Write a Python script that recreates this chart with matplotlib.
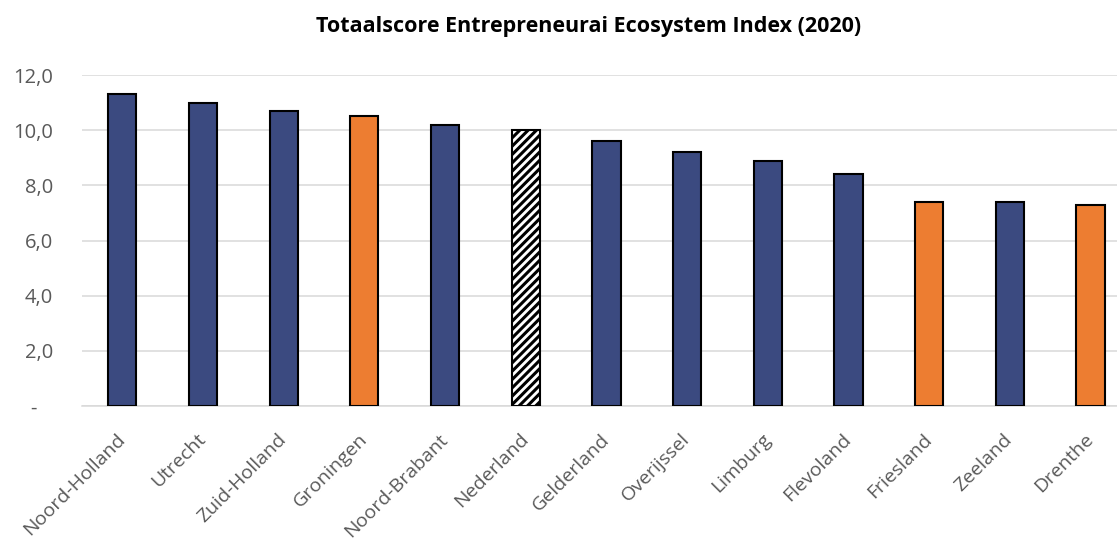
import numpy as np
import matplotlib.pyplot as plt
from matplotlib.ticker import FuncFormatter

provincies = ['Noord-Holland', 'Utrecht', 'Zuid-Holland', 'Groningen', 'Noord-Brabant',
              'Nederland', 'Gelderland', 'Overijssel', 'Limburg', 'Flevoland',
              'Friesland', 'Zeeland', 'Drenthe']
scores = [11.3, 11.0, 10.7, 10.5, 10.2, 10.0, 9.6, 9.2, 8.9, 8.4, 7.4, 7.4, 7.3]
noord = ['Groningen', 'Friesland', 'Drenthe']

blauw = '#3B4A80'
oranje = '#ED7D31'

plt.rcParams['font.family'] = ['Open Sans', 'DejaVu Sans']
plt.rcParams['hatch.linewidth'] = 2.2

fig = plt.figure(figsize=(11.17, 5.4), dpi=100)
# plotgebied loopt iets buiten het plaatje, net als in het origineel
ax = fig.add_axes([0.0734, 0.2481, 0.939, 0.613])

x = np.arange(len(provincies))
for i, (p, s) in enumerate(zip(provincies, scores)):
    if p == 'Nederland':
        ax.bar(i, s, width=0.35, color='white', edgecolor='black', hatch='////',
               linewidth=1.5, zorder=3)
    else:
        kleur = oranje if p in noord else blauw
        ax.bar(i, s, width=0.35, color=kleur, edgecolor='black', linewidth=1.5, zorder=3)

ax.set_ylim(0, 12)
ax.set_xlim(-0.5, len(provincies) - 0.5)
ax.set_yticks(np.arange(0, 12.1, 2))
ax.yaxis.set_major_formatter(FuncFormatter(
    lambda v, pos: '-   ' if v == 0 else f'{v:.1f}'.replace('.', ',')))
ax.yaxis.grid(True, color='#D9D9D9', linewidth=1.1, zorder=0)
ax.set_axisbelow(True)
for kant in ['top', 'right', 'left']:
    ax.spines[kant].set_visible(False)
ax.spines['bottom'].set_color('#D9D9D9')
ax.spines['bottom'].set_linewidth(1.1)
ax.spines['bottom'].set_zorder(1)

ax.set_xticks(x)
ax.set_xticklabels(provincies, rotation=45, ha='right', va='center',
                   rotation_mode='anchor')
ax.tick_params(axis='x', length=0, labelsize=14, colors='#595959', pad=22)
ax.tick_params(axis='y', length=0, labelsize=14.5, colors='#595959', pad=21)

fig.text(0.527, 1 - 32 / 540, 'Totaalscore Entrepreneurai Ecosystem Index (2020)',
         ha='center', va='baseline', fontsize=15.5, fontweight='bold')

fig.savefig('out.png', dpi=100)
